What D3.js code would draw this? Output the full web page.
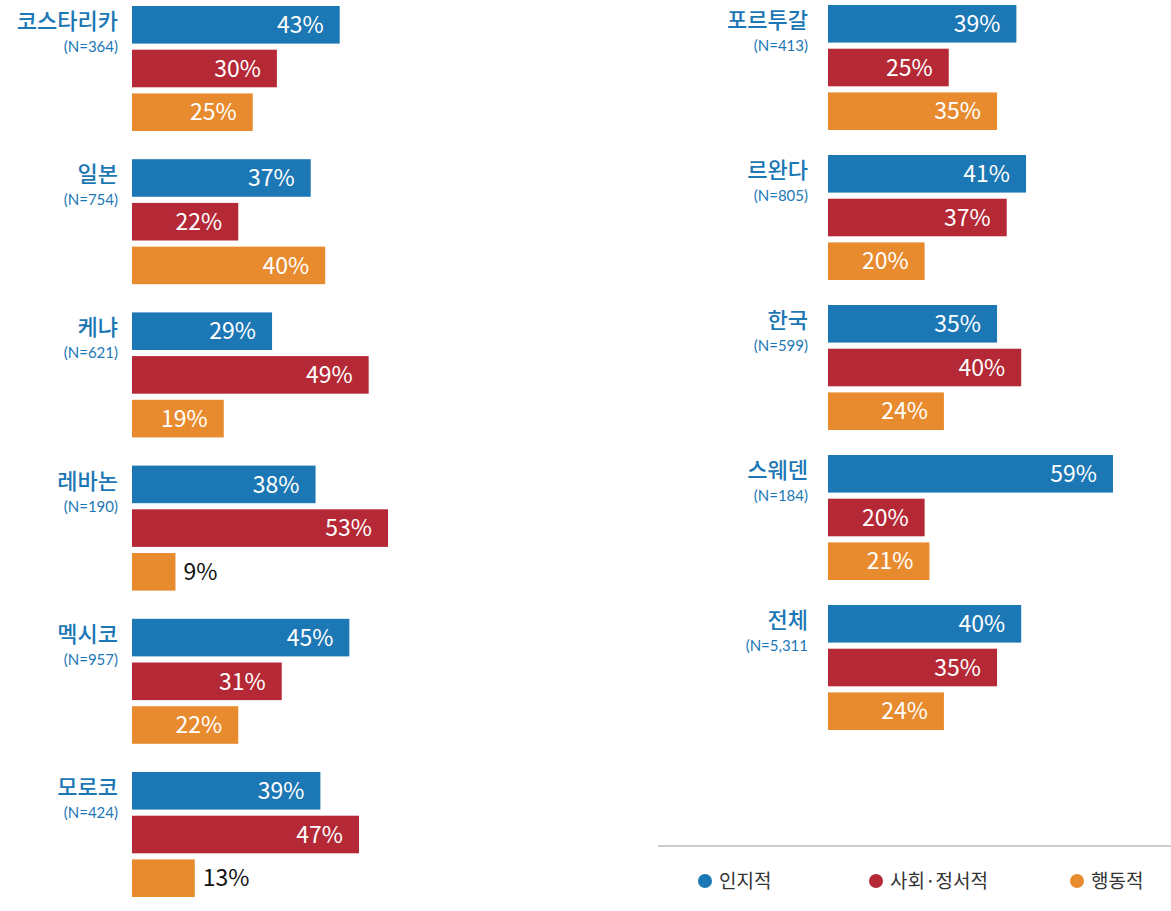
<!DOCTYPE html>
<html>
<head>
<meta charset="utf-8">
<script src="https://cdn.jsdelivr.net/npm/d3@7"></script>
<style>
  body { margin: 0; background: #fff; }
  svg { display: block; font-family: "Noto Sans CJK KR", "Noto Sans", sans-serif; }
</style>
</head>
<body>
<svg id="chart"></svg>
<script>
// categories (series)
var series = ["인지적", "사회·정서적", "행동적"];
var colors = ["#1c77b5", "#b52836", "#e88b2f"];

// left column countries
var leftNames = ["코스타리카", "일본", "케냐", "레바논", "멕시코", "모로코"];
var leftN = ["(N=364)", "(N=754)", "(N=621)", "(N=190)", "(N=957)", "(N=424)"];
var leftCognitive = [43, 37, 29, 38, 45, 39];
var leftSocial = [30, 22, 49, 53, 31, 47];
var leftBehavioral = [25, 40, 19, 9, 22, 13];

// right column countries
var rightNames = ["포르투갈", "르완다", "한국", "스웨덴", "전체"];
var rightN = ["(N=413)", "(N=805)", "(N=599)", "(N=184)", "(N=5,311"];
var rightCognitive = [39, 41, 35, 59, 40];
var rightSocial = [25, 37, 40, 20, 35];
var rightBehavioral = [35, 20, 24, 21, 24];

var width = 1171, height = 911;
var svg = d3.select("#chart").attr("width", width).attr("height", height);

var x = d3.scaleLinear().domain([0, 100]).range([0, 483]);
// three bars in a group: height ~37.5, pitch ~43.7
var inner = d3.scaleBand().domain(d3.range(3)).range([0, 125]).paddingInner(0.14);

function makeRows(names, ns, a, b, c) {
  return names.map(function(n, i) {
    return { name: n, n: ns[i], values: [a[i], b[i], c[i]] };
  });
}

var columns = [
  { rows: makeRows(leftNames, leftN, leftCognitive, leftSocial, leftBehavioral), x0: 132, top: 6, step: 153.2, gap: 14 },
  { rows: makeRows(rightNames, rightN, rightCognitive, rightSocial, rightBehavioral), x0: 828, top: 5, step: 150, gap: 20 }
];

columns.forEach(function(col) {
  var g = svg.append("g").attr("transform", "translate(" + col.x0 + ",0)");
  var groups = g.selectAll("g.group")
    .data(col.rows)
    .enter()
    .append("g")
    .attr("class", "group")
    .attr("transform", function(d, i) { return "translate(0," + (col.top + i * col.step) + ")"; });

  groups.append("text")
    .attr("x", -col.gap)
    .attr("y", 23)
    .attr("text-anchor", "end")
    .attr("fill", "#1c77b5")
    .attr("font-size", 22)
    .attr("font-weight", 500)
    .text(function(d) { return d.name; });

  groups.append("text")
    .attr("x", -col.gap)
    .attr("y", 46)
    .attr("text-anchor", "end")
    .attr("fill", "#1c77b5")
    .attr("font-family", "Lato, sans-serif")
    .attr("font-size", 15)
    .text(function(d) { return d.n; });

  var bars = groups.selectAll("g.bar")
    .data(function(d) { return d.values; })
    .enter()
    .append("g")
    .attr("class", "bar")
    .attr("transform", function(d, i) { return "translate(0," + inner(i) + ")"; });

  bars.append("rect")
    .attr("width", function(d) { return x(d); })
    .attr("height", inner.bandwidth())
    .attr("fill", function(d, i) { return colors[i]; });

  bars.append("text")
    .attr("y", inner.bandwidth() / 2)
    .attr("dy", "0.36em")
    .attr("font-size", 23)
    .attr("x", function(d) { return d < 15 ? x(d) + 8 : x(d) - 16; })
    .attr("text-anchor", function(d) { return d < 15 ? "start" : "end"; })
    .attr("fill", function(d) { return d < 15 ? "#111" : "#fff"; })
    .text(function(d) { return d + "%"; });
});

// legend
svg.append("line")
  .attr("x1", 658).attr("x2", 1171)
  .attr("y1", 846).attr("y2", 846)
  .attr("stroke", "#999").attr("stroke-width", 1.2);

var legendX = [705, 876, 1077];
var leg = svg.selectAll("g.legend")
  .data(series)
  .enter()
  .append("g")
  .attr("class", "legend")
  .attr("transform", function(d, i) { return "translate(" + legendX[i] + ",881)"; });

leg.append("circle").attr("r", 7).attr("fill", function(d, i) { return colors[i]; });
leg.append("text")
  .attr("x", 14)
  .attr("dy", "0.36em")
  .attr("font-size", 19)
  .attr("fill", "#333")
  .text(function(d) { return d; });
</script>
</body>
</html>
